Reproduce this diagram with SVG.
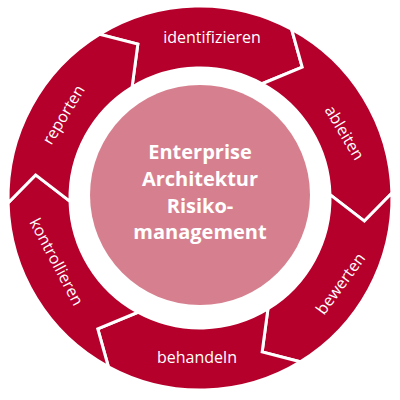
<svg xmlns="http://www.w3.org/2000/svg" width="400" height="400" viewBox="0 0 400 400">
<style>
.seg{fill:#B5002C;stroke:#FFFFFF;stroke-width:3;stroke-linejoin:miter}
.lbl{font-family:"Open Sans","Liberation Sans",sans-serif;font-size:16px;fill:#FFFFFF;text-anchor:middle}
.ctr{font-family:"Open Sans","Liberation Sans",sans-serif;font-size:20px;font-weight:bold;fill:#FFFFFF;text-anchor:middle}
</style>
<rect width="400" height="400" fill="#FFFFFF"/>
<g id="identifizieren">
<path class="seg" d="M 99.68 34.30 A 192 192 0 0 1 291.62 29.27 L 302.21 67.19 L 262.04 83.76 A 130 130 0 0 0 132.07 87.16 L 137.82 44.08 Z"/>
<text class="lbl" x="212" y="43">identifizieren</text>
</g>
<g id="ableiten">
<path class="seg" d="M 291.62 29.27 A 192 192 0 0 1 391.93 192.97 L 364.39 221.11 L 329.96 194.60 A 130 130 0 0 0 262.04 83.76 L 302.21 67.19 Z"/>
<text class="lbl" transform="translate(344 133) rotate(59)" x="0" y="5">ableiten</text>
</g>
<g id="bewerten">
<path class="seg" d="M 391.93 192.97 A 192 192 0 0 1 300.32 361.70 L 262.18 351.92 L 267.93 308.84 A 130 130 0 0 0 329.96 194.60 L 364.39 221.11 Z"/>
<text class="lbl" transform="translate(341 284) rotate(-54)" x="0" y="5">bewerten</text>
</g>
<g id="behandeln">
<path class="seg" d="M 300.32 361.70 A 192 192 0 0 1 108.38 366.73 L 97.79 328.81 L 137.96 312.24 A 130 130 0 0 0 267.93 308.84 L 262.18 351.92 Z"/>
<text class="lbl" x="197" y="363">behandeln</text>
</g>
<g id="kontrollieren">
<path class="seg" d="M 108.38 366.73 A 192 192 0 0 1 8.07 203.03 L 35.61 174.89 L 70.04 201.40 A 130 130 0 0 0 137.96 312.24 L 97.79 328.81 Z"/>
<text class="lbl" transform="translate(56 262) rotate(62)" x="0" y="5">kontrollieren</text>
</g>
<g id="reporten">
<path class="seg" d="M 8.07 203.03 A 192 192 0 0 1 99.68 34.30 L 137.82 44.08 L 132.07 87.16 A 130 130 0 0 0 70.04 201.40 L 35.61 174.89 Z"/>
<text class="lbl" transform="translate(64 115) rotate(-59)" x="0" y="5">reporten</text>
</g>
<g id="center">
<circle cx="200" cy="195" r="110" fill="#D6808F"/>
<text class="ctr" x="200" y="159">Enterprise</text>
<text class="ctr" x="200" y="186">Architektur</text>
<text class="ctr" x="200" y="213">Risiko-</text>
<text class="ctr" x="200" y="239">management</text>
</g>
</svg>
